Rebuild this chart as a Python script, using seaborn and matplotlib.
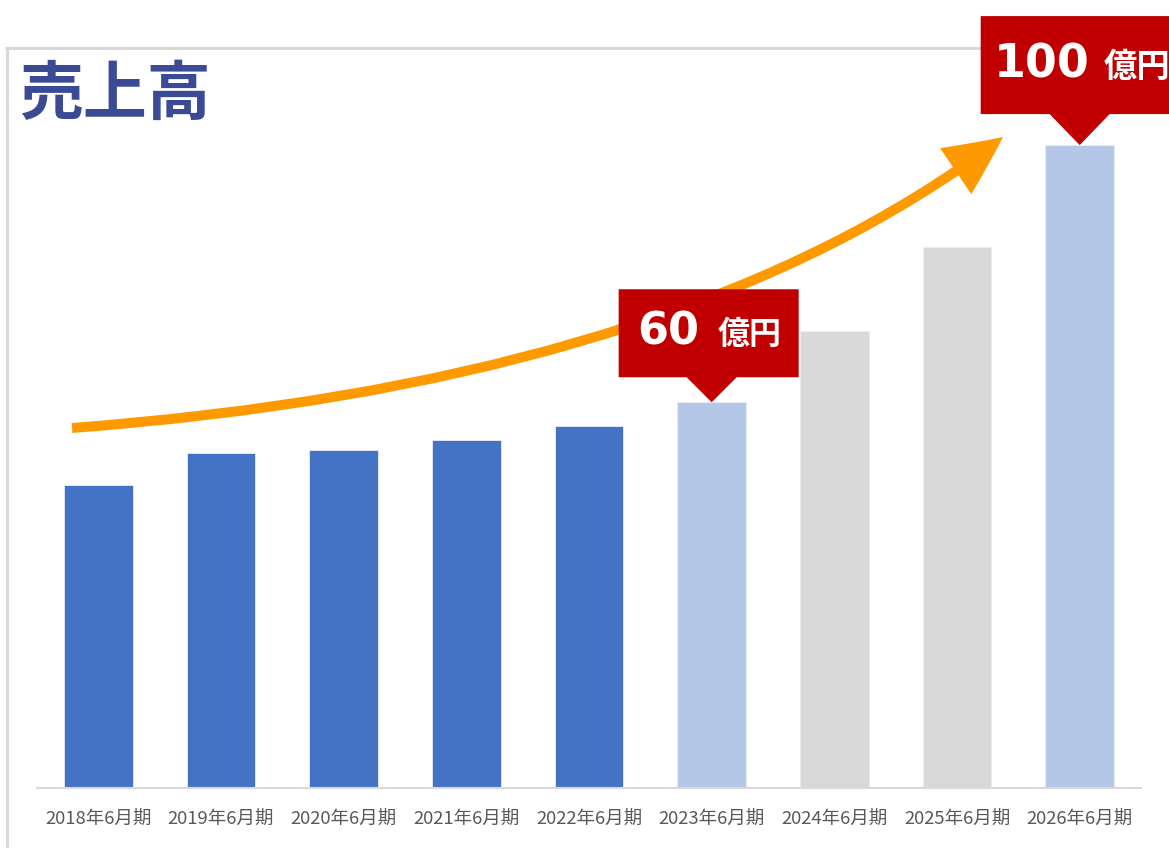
import numpy as np
import pandas as pd
import matplotlib
matplotlib.use('Agg')
import matplotlib.pyplot as plt
import seaborn as sns
from matplotlib.patches import FancyArrowPatch, Polygon
from matplotlib.path import Path
from matplotlib.lines import Line2D

# Data
periods = ['2018年6月期', '2019年6月期', '2020年6月期', '2021年6月期', '2022年6月期',
           '2023年6月期', '2024年6月期', '2025年6月期', '2026年6月期']
sales = [47.2, 52.1, 52.6, 54.1, 56.3, 60, 71.1, 84.2, 100]
bar_colors = ['#4472C4', '#4472C4', '#4472C4', '#4472C4', '#4472C4',
              '#B4C7E7', '#D9D9D9', '#D9D9D9', '#B4C7E7']
callout_idx = [5, 8]
callout_text = ['60', '100']
unit = '億円'
title = '売上高'

# callout geometry in pixels: box half width, box height, triangle half width,
# triangle height, text pad from box left, text baseline above box bottom, font sizes
callout_style = [
    dict(hw=90, bh=88, tw=25, th=25, pad=19, gap=19, dw=30.5, base=33, fs=32, ufs=23),
    dict(hw=96, bh=98, tw=30, th=31, pad=13, gap=17, dw=31, base=37, fs=33, ufs=24),
]

sns.set_style('white')
plt.rcParams['font.family'] = ['Noto Sans CJK JP', 'DejaVu Sans']

W, H = 1169, 848
fig = plt.figure(figsize=(W / 100, H / 100), dpi=100)
ax = fig.add_axes([37 / W, (H - 788) / H, (1141 - 37) / W, (788 - 48) / H])
ax.patch.set_alpha(0)

df = pd.DataFrame({'period': periods, 'sales': sales})
sns.barplot(data=df, x='period', y='sales', hue='period', palette=bar_colors,
            saturation=1, width=0.56, legend=False, ax=ax,
            edgecolor='#E8EEF8', linewidth=0.6)

ax.set_xlim(-0.5, len(periods) - 0.5)
ax.set_ylim(0, 115.1)
ax.set_xlabel('')
ax.set_ylabel('')
ax.set_yticks([])
for s in ['top', 'right', 'left']:
    ax.spines[s].set_visible(False)
ax.spines['bottom'].set_color('#D9D9D9')
ax.spines['bottom'].set_linewidth(1.5)
ax.tick_params(axis='x', length=0, pad=16, labelsize=13.3, labelcolor='#595959')

# outer frame (left and top edges of the chart area), behind everything
fig.add_artist(Line2D([7 / W, 7 / W], [0, 1 - 48 / H], transform=fig.transFigure,
                      color='#D9D9D9', lw=2.2, zorder=-1))
fig.add_artist(Line2D([6 / W, 1], [1 - 48 / H, 1 - 48 / H], transform=fig.transFigure,
                      color='#D9D9D9', lw=2.2, zorder=-1))

# title
fig.text(19 / W, 1 - 62 / H, title, fontsize=46, fontweight='bold', color='#3B4A94',
         va='top', ha='left')

# growth arrow (quadratic bezier in figure pixels)
def px(x, y):
    return (x / W, 1 - y / H)

arrow_path = Path([px(72, 428), px(684, 382), px(1003, 137)],
                  [Path.MOVETO, Path.CURVE3, Path.CURVE3])
arrow = FancyArrowPatch(path=arrow_path, transform=fig.transFigure,
                        arrowstyle='simple,head_length=42,head_width=40,tail_width=7.2',
                        mutation_scale=1, color='#FF9900', lw=0, zorder=3)
arrow.set_clip_on(False)
ax.add_patch(arrow)

# callouts
ppu = (788 - 48) / 115.1             # pixels per value unit
cpx = (1141 - 37) / len(periods)     # pixels per category
for i, txt, st in zip(callout_idx, callout_text, callout_style):
    v = sales[i]
    c = i - 3 / cpx
    base = v + st['th'] / ppu
    top = base + st['bh'] / ppu
    left = c - st['hw'] / cpx
    right = c + st['hw'] / cpx
    poly = Polygon([(i, v), (i - st['tw'] / cpx, base), (left, base), (left, top),
                    (right, top), (right, base), (i + st['tw'] / cpx, base)],
                   closed=True, facecolor='#C00000', edgecolor='none', zorder=4,
                   clip_on=False)
    ax.add_patch(poly)
    yb = base + st['base'] / ppu
    x_num = left + st['pad'] / cpx
    ax.text(x_num, yb, txt, fontsize=st['fs'], fontweight='bold', color='white',
            family=['DejaVu Sans'], ha='left', va='baseline', zorder=5, clip_on=False)
    x_unit = x_num + (len(txt) * st['dw'] + st['gap']) / cpx
    ax.text(x_unit, yb, unit, fontsize=st['ufs'], fontweight='bold', color='white',
            ha='left', va='baseline', zorder=5, clip_on=False)

fig.savefig('out.png', dpi=100)
